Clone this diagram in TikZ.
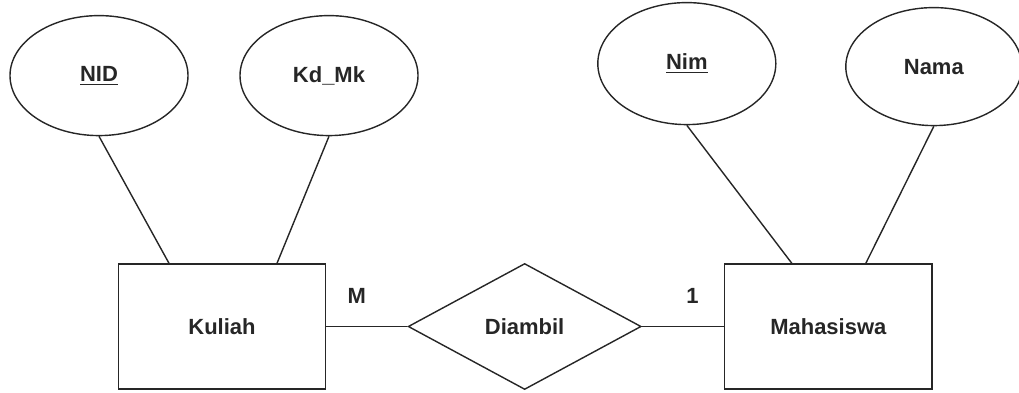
\documentclass[tikz,border=0pt]{standalone}
\usepackage{fontspec}
\setmainfont{Liberation Sans}
\usetikzlibrary{positioning,shapes.geometric}

\begin{document}
\begin{tikzpicture}[line width=0.8pt,black!85,
  font=\fontsize{12.5}{15}\selectfont\bfseries,
  entitas/.style={draw,rectangle,minimum width=4.15cm,minimum height=2.5cm},
  relasi/.style={draw,diamond,minimum width=4.66cm,minimum height=2.52cm,inner sep=0pt},
  atribut/.style={draw,ellipse,minimum width=3.56cm,minimum height=2.4cm},
  kardinal/.style={inner sep=0pt}]
\useasboundingbox (0,0) rectangle (20.38,7.84);

\node[entitas] (kuliah) at (4.44,1.31) {Kuliah};
\node[relasi,right=1.62cm of kuliah] (diambil) {Diambil};
\node[entitas,right=1.64cm of diambil] (mhs) {Mahasiswa};

\node[atribut,above=2.54cm of kuliah,xshift=-2.46cm] (nid) {\underline{NID}};
\node[atribut,above=2.54cm of kuliah,xshift=2.14cm] (kdmk) {Kd\_Mk};
\node[atribut,above=2.76cm of mhs,xshift=-2.83cm,minimum height=2.44cm] (nim) {\underline{Nim}};
\node[atribut,above=2.74cm of mhs,xshift=2.11cm,minimum width=3.52cm,minimum height=2.36cm] (nama) {Nama};

\node[kardinal,above right=0.45cm and 0.41cm of kuliah.east] (kM) {M};
\node[kardinal,above left=0.45cm and 0.49cm of mhs.west] (k1) {1};

\draw (nid.south) -- ([xshift=-1.06cm]kuliah.north);
\draw (kdmk.south) -- ([xshift=1.1cm]kuliah.north);
\draw (nim.south) -- ([xshift=-0.73cm]mhs.north);
\draw (nama.south) -- ([xshift=0.75cm]mhs.north);
\draw (kuliah) -- (diambil);
\draw (diambil) -- (mhs);
\end{tikzpicture}
\end{document}
